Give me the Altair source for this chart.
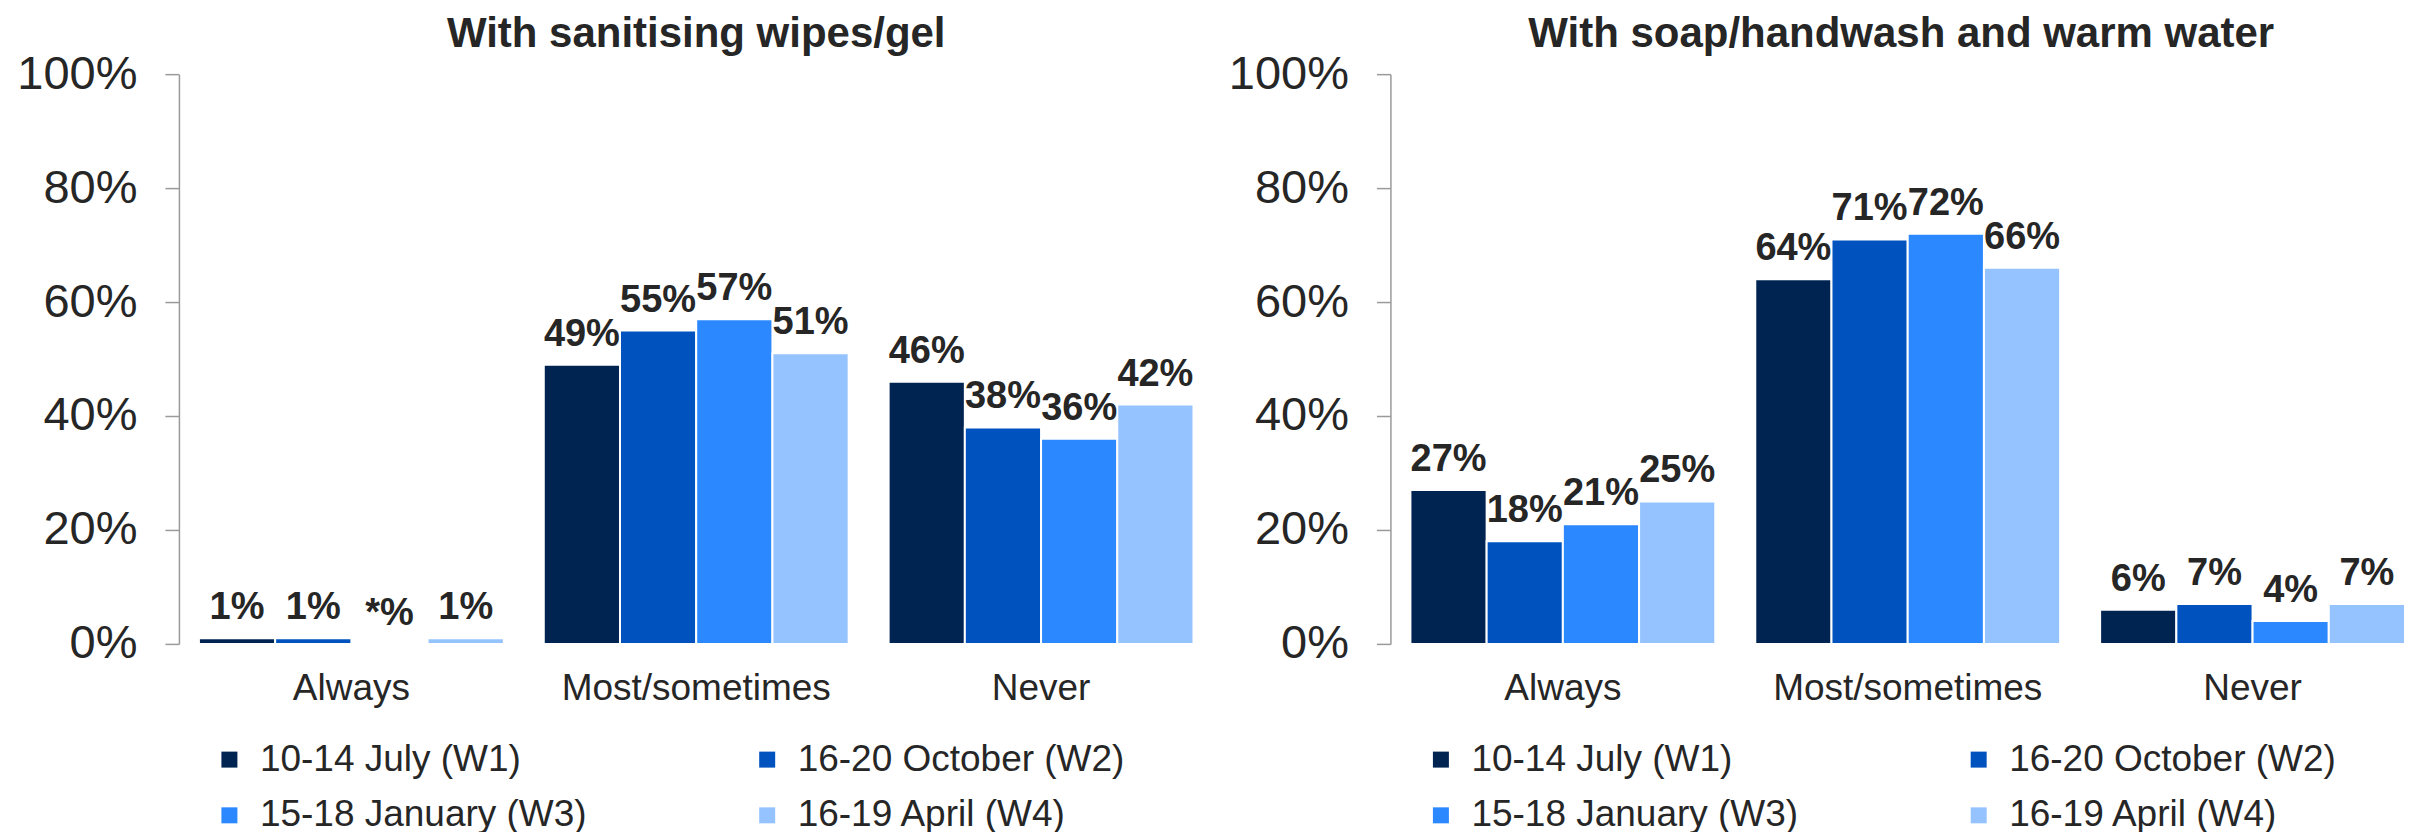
import altair as alt
import pandas as pd

categories = ["Always", "Most/sometimes", "Never"]
waves = ["10-14 July (W1)", "16-20 October (W2)", "15-18 January (W3)", "16-19 April (W4)"]
colors = ["#002452", "#0053BF", "#2B88FF", "#95C3FF"]

wipes_always = [1, 1, 0, 1]
wipes_most = [49, 55, 57, 51]
wipes_never = [46, 38, 36, 42]
wipes_always_labels = ["1%", "1%", "*%", "1%"]

soap_always = [27, 18, 21, 25]
soap_most = [64, 71, 72, 66]
soap_never = [6, 7, 4, 7]

titles = ["With sanitising wipes/gel", "With soap/handwash and warm water"]

FONT = "Liberation Sans"
TXT = "#262626"


def make_df(series, labels_override=None):
    rows = []
    for ci, cat in enumerate(categories):
        for wi, wave in enumerate(waves):
            v = series[ci][wi]
            lab = f"{v}%"
            if labels_override and cat in labels_override:
                lab = labels_override[cat][wi]
            rows.append({"Category": cat, "Wave": wave, "Value": v, "Label": lab})
    return pd.DataFrame(rows)


df_wipes = make_df([wipes_always, wipes_most, wipes_never], {"Always": wipes_always_labels})
df_soap = make_df([soap_always, soap_most, soap_never])


def panel(df, title, width, pad_outer, align):
    base = alt.Chart(df).encode(
        x=alt.X("Category:N", sort=categories, title=None,
                scale=alt.Scale(paddingInner=0.1159, paddingOuter=pad_outer, align=align),
                axis=alt.Axis(domain=False, ticks=False, labelAngle=0, labelPadding=27,
                              labelFontSize=37, labelFont=FONT, labelColor=TXT, labelLimit=600)),
        xOffset=alt.XOffset("Wave:N", sort=waves, scale=alt.Scale(paddingInner=0, paddingOuter=0)),
        y=alt.Y("Value:Q", title=None,
                scale=alt.Scale(domain=[0, 100], nice=False),
                axis=alt.Axis(values=[0, 20, 40, 60, 80, 100], labelExpr="datum.value + '%'",
                              grid=False, domainColor="#9a9a9a", domainWidth=1.5,
                              tickColor="#9a9a9a", tickWidth=1.5, tickSize=14, labelPadding=28,
                              labelFontSize=47, labelFont=FONT, labelColor=TXT)),
    )
    bars = base.mark_bar(stroke="white", strokeWidth=2).encode(
        color=alt.Color("Wave:N", sort=waves, title=None,
                        scale=alt.Scale(domain=waves, range=colors),
                        legend=alt.Legend(orient="none", legendX=32, legendY=667, columns=2,
                                          direction="horizontal",
                                          columnPadding=162, rowPadding=18, padding=0,
                                          symbolType="square", symbolSize=256,
                                          symbolStrokeWidth=0, symbolOffset=0, labelOffset=12,
                                          labelFontSize=37, labelFont=FONT, labelColor=TXT,
                                          labelLimit=600, gridAlign="all"))
    )
    text = base.mark_text(baseline="alphabetic", dy=-19, fontSize=38, fontWeight="bold",
                          font=FONT, color=TXT).encode(text="Label:N")
    return alt.layer(bars, text).properties(
        width=width, height=570,
        title=alt.TitleParams(title, fontSize=42, fontWeight="bold", font=FONT, color=TXT,
                              anchor="middle", offset=-6),
    )


left = panel(df_wipes, titles[0], 1035, 0.058, 0.5)
right = panel(df_soap, titles[1], 1022, 0.03913, 0.7407)

chart = alt.hconcat(left, right, spacing=14).resolve_legend(
    color="independent"
).configure(padding={"left": 8, "top": 5, "right": 0, "bottom": 0}).configure_view(stroke=None)

chart.save("out.html", embed_options={"renderer": "svg", "actions": False})
